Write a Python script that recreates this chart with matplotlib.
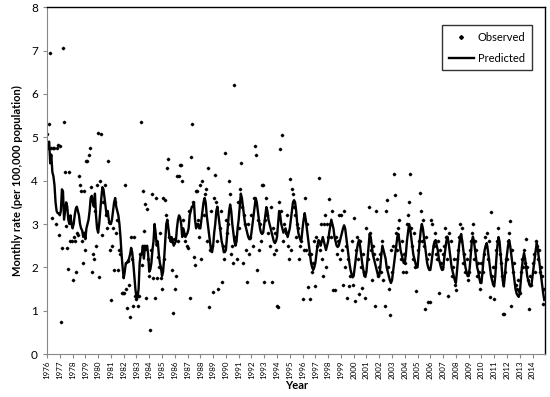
import numpy as np
import matplotlib
matplotlib.use("Agg")
import matplotlib.pyplot as plt

plt.rcParams['font.family'] = ['Lato', 'DejaVu Sans']

years = list(range(1976, 2015))

# predicted monthly rate, one row per year (Jan..Dec)
predicted = [
    [4.75, 4.85, 4.9, 4.4, 4.6, 4.2, 4.1, 3.9, 3.5, 3.3, 3.25, 3.25],
    [3.2, 3.3, 3.8, 3.75, 3.1, 3.3, 3.5, 3.4, 3.1, 3.0, 3.2, 3.0],
    [2.9, 3.0, 3.2, 3.35, 3.4, 3.3, 3.2, 3.0, 2.9, 2.85, 2.7, 2.8],
    [2.65, 2.9, 3.0, 3.1, 3.3, 3.6, 3.65, 3.5, 3.4, 3.7, 3.2, 2.9],
    [2.8, 3.0, 3.3, 3.6, 3.85, 3.8, 3.6, 3.4, 3.2, 3.3, 3.1, 3.0],
    [3.0, 3.1, 3.3, 3.5, 3.6, 3.4, 3.3, 3.2, 3.0, 2.7, 2.3, 2.0],
    [1.75, 1.9, 2.1, 2.1, 2.15, 2.2, 2.3, 2.45, 2.35, 2.1, 1.8, 1.5],
    [1.3, 1.3, 1.5, 2.1, 2.3, 2.3, 2.5, 2.2, 2.5, 2.4, 2.5, 2.3],
    [1.9, 1.95, 2.1, 2.4, 2.6, 3.0, 2.8, 2.5, 2.6, 2.3, 2.1, 2.0],
    [1.8, 1.9, 2.2, 2.6, 3.0, 3.1, 2.9, 2.7, 2.6, 2.7, 2.6, 2.5],
    [2.55, 2.6, 2.9, 3.1, 3.2, 3.15, 3.0, 2.7, 2.9, 2.8, 2.7, 2.75],
    [2.8, 2.9, 3.2, 3.3, 3.4, 3.4, 3.5, 3.1, 2.9, 3.0, 3.0, 2.9],
    [2.9, 3.1, 3.3, 3.5, 3.6, 3.5, 3.2, 3.0, 2.8, 2.6, 2.4, 2.35],
    [2.5, 2.8, 3.0, 3.3, 3.4, 3.2, 3.0, 2.8, 2.6, 2.5, 2.35, 2.35],
    [2.4, 2.7, 3.0, 3.3, 3.45, 3.3, 3.0, 2.8, 2.6, 2.5, 2.6, 2.9],
    [3.1, 3.4, 3.7, 3.6, 3.4, 3.2, 3.0, 2.9, 2.8, 2.7, 2.65, 2.65],
    [2.8, 3.0, 3.2, 3.4, 3.6, 3.5, 3.3, 3.1, 2.9, 2.8, 2.77, 2.8],
    [3.0, 3.2, 3.39, 3.3, 3.1, 3.0, 2.9, 2.8, 2.7, 2.6, 2.56, 2.6],
    [2.7, 3.0, 3.3, 3.2, 3.0, 2.9, 2.8, 2.85, 2.9, 2.8, 2.7, 2.8],
    [2.9, 3.1, 3.3, 3.5, 3.55, 3.5, 3.3, 3.0, 2.8, 2.7, 2.63, 2.65],
    [2.9, 3.1, 3.25, 3.1, 2.9, 2.7, 2.5, 2.3, 2.1, 2.0, 1.94, 2.0],
    [2.1, 2.3, 2.5, 2.63, 2.6, 2.5, 2.6, 2.7, 2.6, 2.5, 2.4, 2.5],
    [2.6, 2.8, 2.95, 3.1, 3.0, 2.9, 2.7, 2.6, 2.5, 2.47, 2.5, 2.6],
    [2.7, 2.8, 2.9, 2.97, 2.9, 2.7, 2.5, 2.3, 2.1, 1.95, 1.85, 1.77],
    [1.8, 2.0, 2.2, 2.4, 2.55, 2.63, 2.5, 2.3, 2.1, 1.95, 1.8, 1.78],
    [1.9, 2.2, 2.5, 2.77, 2.7, 2.5, 2.3, 2.2, 2.1, 2.0, 1.9, 1.8],
    [1.8, 2.0, 2.3, 2.5, 2.4, 2.3, 2.2, 2.0, 1.9, 1.8, 1.7, 1.64],
    [1.7, 1.9, 2.1, 2.3, 2.5, 2.7, 2.77, 2.6, 2.4, 2.3, 2.2, 2.1],
    [2.1, 2.3, 2.6, 2.8, 3.0, 2.9, 2.7, 2.5, 2.3, 2.2, 2.1, 2.0],
    [2.0, 2.3, 2.6, 2.85, 3.0, 2.9, 2.7, 2.5, 2.3, 2.1, 2.0, 1.94],
    [1.94, 2.1, 2.3, 2.5, 2.6, 2.63, 2.5, 2.4, 2.2, 2.1, 2.0, 1.94],
    [1.95, 2.2, 2.4, 2.6, 2.71, 2.6, 2.4, 2.2, 2.0, 1.9, 1.8, 1.7],
    [1.64, 1.9, 2.2, 2.5, 2.7, 2.77, 2.6, 2.4, 2.2, 2.0, 1.9, 1.8],
    [1.8, 2.0, 2.3, 2.6, 2.71, 2.6, 2.4, 2.2, 2.0, 1.9, 1.75, 1.64],
    [1.64, 1.9, 2.2, 2.4, 2.5, 2.56, 2.4, 2.2, 2.0, 1.8, 1.7, 1.6],
    [1.56, 1.8, 2.2, 2.5, 2.7, 2.6, 2.3, 2.0, 1.7, 1.56, 1.8, 2.1],
    [2.3, 2.5, 2.63, 2.5, 2.3, 2.1, 1.9, 1.7, 1.5, 1.4, 1.35, 1.32],
    [1.4, 1.7, 2.0, 2.2, 2.33, 2.2, 2.0, 1.8, 1.7, 1.6, 1.56, 1.6],
    [1.8, 2.0, 2.2, 2.4, 2.56, 2.4, 2.2, 2.0, 1.8, 1.6, 1.4, 1.25],
]

# observed monthly rate, one row per year (Jan..Dec)
observed = [
    [5.07, 4.75, 5.3, 6.95, 4.75, 3.15, 4.75, 4.75, 3.0, 4.75, 4.83, 2.75],
    [4.8, 0.75, 2.45, 7.05, 5.35, 4.2, 2.95, 2.45, 1.97, 4.2, 2.6, 2.6],
    [1.7, 2.7, 2.6, 1.9, 2.8, 2.75, 4.1, 3.9, 3.75, 2.6, 2.1, 3.75],
    [2.4, 4.45, 4.45, 4.6, 4.75, 3.85, 1.9, 2.3, 2.2, 3.3, 2.5, 3.9],
    [5.1, 1.77, 4.0, 5.07, 2.75, 3.5, 3.9, 3.2, 2.9, 4.45, 3.05, 2.4],
    [1.25, 2.5, 2.9, 1.95, 3.5, 2.8, 3.1, 1.95, 2.4, 2.3, 1.4, 1.4],
    [1.4, 3.9, 1.5, 1.07, 2.15, 1.6, 0.85, 2.7, 2.2, 1.1, 2.7, 1.35],
    [1.28, 1.1, 1.35, 2.3, 5.35, 2.05, 3.75, 2.85, 3.45, 1.3, 3.35, 2.2],
    [1.8, 0.55, 2.4, 3.7, 1.75, 1.3, 3.6, 1.75, 2.25, 2.0, 2.8, 1.75],
    [1.5, 3.6, 2.2, 3.55, 3.2, 4.3, 4.5, 2.7, 2.6, 1.95, 0.95, 2.65],
    [1.5, 1.8, 4.1, 2.6, 4.1, 4.35, 4.35, 4.0, 3.1, 2.75, 2.6, 2.5],
    [2.45, 3.3, 1.3, 4.55, 5.3, 3.5, 2.25, 2.05, 3.75, 3.75, 3.1, 2.7],
    [3.9, 2.2, 4.0, 3.2, 3.7, 3.8, 2.6, 4.28, 1.08, 2.4, 3.3, 2.5],
    [1.43, 3.6, 4.13, 3.5, 2.6, 1.5, 2.9, 3.3, 1.66, 2.5, 2.2, 4.63],
    [3.1, 2.8, 3.0, 4.0, 3.7, 2.3, 2.5, 2.1, 6.2, 2.7, 2.2, 3.5],
    [2.9, 3.8, 4.4, 3.4, 2.1, 3.2, 3.0, 2.4, 1.66, 3.0, 2.3, 2.7],
    [3.2, 2.5, 3.6, 4.8, 4.6, 1.93, 3.1, 2.4, 3.0, 2.6, 3.9, 3.9],
    [1.66, 3.1, 3.6, 3.2, 2.8, 2.5, 3.4, 1.66, 2.9, 2.3, 2.8, 2.4],
    [1.1, 1.09, 3.5, 4.72, 3.3, 5.05, 2.6, 3.0, 2.8, 3.2, 2.5, 2.2],
    [4.03, 2.4, 3.8, 3.7, 3.4, 3.2, 2.7, 3.0, 2.9, 2.2, 2.5, 2.6],
    [1.28, 2.4, 3.6, 2.4, 3.0, 1.55, 2.3, 1.28, 2.3, 1.9, 2.1, 2.6],
    [1.56, 2.7, 2.5, 4.05, 2.4, 3.0, 2.2, 1.8, 3.0, 3.2, 2.0, 3.0],
    [2.7, 3.57, 3.0, 2.7, 3.3, 1.47, 1.47, 2.7, 2.3, 2.6, 3.2, 2.2],
    [3.2, 2.4, 1.6, 3.3, 2.0, 2.5, 1.3, 2.2, 1.56, 1.8, 2.6, 1.6],
    [3.15, 1.23, 2.4, 2.7, 2.2, 1.38, 2.6, 2.0, 1.52, 2.3, 1.9, 1.3],
    [2.9, 2.2, 3.4, 2.8, 2.4, 1.7, 2.5, 2.3, 1.1, 3.3, 2.2, 1.8],
    [2.0, 2.3, 1.9, 2.6, 1.7, 1.1, 3.3, 3.55, 2.0, 1.5, 0.9, 2.4],
    [1.9, 2.5, 4.15, 3.66, 2.8, 2.4, 2.9, 3.1, 2.2, 2.6, 1.9, 2.3],
    [2.1, 1.9, 3.0, 3.2, 3.5, 4.15, 2.9, 2.5, 2.2, 2.8, 2.0, 1.45],
    [2.4, 2.6, 3.72, 3.3, 2.6, 3.1, 2.5, 1.05, 2.7, 2.2, 1.2, 2.3],
    [1.2, 3.1, 3.0, 2.5, 2.8, 2.3, 2.2, 2.6, 1.42, 2.4, 2.1, 2.0],
    [2.3, 2.5, 2.9, 2.7, 2.2, 1.35, 2.8, 2.6, 1.8, 2.0, 2.2, 1.6],
    [1.47, 2.2, 2.4, 2.7, 3.0, 2.6, 2.9, 2.1, 2.3, 1.9, 2.2, 1.7],
    [1.9, 2.4, 2.6, 2.8, 3.0, 2.2, 2.6, 2.4, 1.8, 2.1, 1.9, 1.5],
    [2.1, 1.9, 2.3, 2.7, 2.5, 2.8, 2.2, 2.6, 1.32, 3.27, 1.8, 2.0],
    [1.28, 2.0, 2.4, 2.6, 2.9, 2.3, 2.1, 1.8, 0.93, 0.92, 1.9, 2.2],
    [2.2, 2.6, 2.8, 3.07, 1.1, 2.4, 1.9, 2.1, 1.6, 1.5, 1.7, 1.45],
    [1.4, 1.9, 2.2, 2.0, 2.4, 2.1, 2.66, 2.0, 1.7, 1.05, 1.8, 1.6],
    [2.1, 2.3, 1.9, 2.6, 2.5, 2.2, 2.4, 1.9, 2.0, 1.8, 1.15, 1.5],
]


def main():
    t = np.array([y + m / 12.0 for y in years for m in range(12)])
    pred = np.array(predicted).ravel()
    obs = np.array(observed).ravel()

    fig = plt.figure(figsize=(5.5, 3.97), dpi=100)
    ax = fig.add_axes([0.0855, 0.108, 0.906, 0.874])

    ax.plot(t, obs, linestyle="none", marker="D", markersize=1.3,
            color="black", label="Observed")
    ax.plot(t, pred, "-", color="black", linewidth=1.7, label="Predicted")

    ax.set_xlim(1976, 2015)
    ax.set_ylim(0, 8)
    ax.set_xticks(years)
    ax.set_xticklabels([str(y) for y in years], rotation=90, fontsize=5.8)
    ax.set_yticks(range(0, 9))
    ax.tick_params(axis="y", labelsize=8.5, length=3, direction="out", color="#888888")
    ax.tick_params(axis="x", length=3, direction="out", color="#888888", pad=1.5)

    for side in ["left", "bottom"]:
        ax.spines[side].set_color("#888888")
    for side in ["top", "right"]:
        ax.spines[side].set_color("black")
        ax.spines[side].set_linewidth(1.0)

    ax.set_ylabel("Monthly rate (per 100,000 population)", fontsize=8,
                  fontweight="bold", labelpad=6)
    ax.set_xlabel("Year", fontsize=8, fontweight="bold", labelpad=1)

    leg = ax.legend(loc="upper right", bbox_to_anchor=(0.984, 0.965),
                    fontsize=8, frameon=True, fancybox=False,
                    handlelength=2.3, handletextpad=0.3, borderpad=0.6,
                    labelspacing=0.9, markerscale=1.5, markerfirst=True)
    leg.get_frame().set_edgecolor("black")
    leg.get_frame().set_linewidth(1.0)

    fig.savefig("out.png", dpi=100)


if __name__ == "__main__":
    main()
